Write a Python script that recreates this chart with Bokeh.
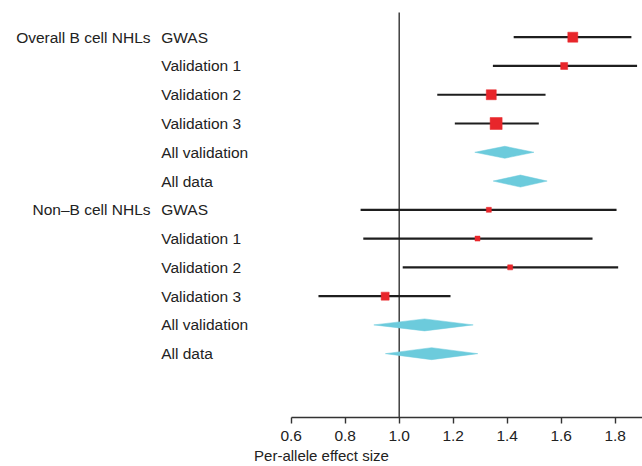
from bokeh.plotting import figure
from bokeh.models import Range1d, FixedTicker, LinearAxis, NumeralTickFormatter
from bokeh.core.properties import value
from bokeh.embed import file_html
from bokeh.resources import INLINE

# ---------------- data ----------------
groups = ["Overall B cell NHLs", "Non\u2013B cell NHLs"]
row_labels = ["GWAS", "Validation 1", "Validation 2", "Validation 3",
              "All validation", "All data"] * 2
estimate = [1.643, 1.611, 1.341, 1.359, 1.391, 1.449,
            1.332, 1.290, 1.411, 0.948, 1.094, 1.120]
ci_low = [1.424, 1.347, 1.141, 1.206, 1.280, 1.348,
          0.857, 0.867, 1.013, 0.701, 0.906, 0.949]
ci_high = [1.860, 1.881, 1.542, 1.517, 1.499, 1.548,
           1.805, 1.716, 1.811, 1.190, 1.274, 1.291]
is_pooled = [False, False, False, False, True, True,
             False, False, False, False, True, True]
weight = [10, 7, 10, 12, 0, 0, 5, 5, 5, 8, 0, 0]  # square size of study estimates
x_ticks = [0.6, 0.8, 1.0, 1.2, 1.4, 1.6, 1.8]
x_label = "Per-allele effect size"

# ---------------- layout ----------------
W, H = 642, 466
PX_PER_UNIT = 270.0
AXIS_X0 = 290.7          # canvas x of value 0.6
ROW0_Y = 36.7            # canvas y of first row
ROW_STEP = 28.77
FRAME_H = 417
x_start = 0.6 - AXIS_X0 / PX_PER_UNIT
x_end = x_start + W / PX_PER_UNIT
y_top = (0 - ROW0_Y) / ROW_STEP
y_bot = (FRAME_H - ROW0_Y) / ROW_STEP
def px_to_row(py):
    return (py - ROW0_Y) / ROW_STEP
def px_to_x(px):
    return 0.6 + (px - AXIS_X0) / PX_PER_UNIT

FONT = value("Liberation Sans")

p = figure(width=W, height=H, output_backend="svg", toolbar_location=None,
           x_range=Range1d(x_start, x_end), y_range=Range1d(y_bot, y_top),
           y_axis_location=None, min_border_left=0, min_border_right=0,
           min_border_top=0, min_border_bottom=H - FRAME_H)
p.outline_line_color = None
p.grid.visible = False
p.background_fill_color = "white"
p.border_fill_color = "white"

rows = list(range(len(row_labels)))

# reference line at 1.0
p.segment(x0=[1.0], y0=[px_to_row(12)], x1=[1.0], y1=[y_bot],
          line_color="#333333", line_width=1.4)

# confidence intervals of studies
st_rows = [r for r in rows if not is_pooled[r]]
p.segment(x0=[ci_low[r] for r in st_rows], y0=st_rows,
          x1=[ci_high[r] for r in st_rows], y1=st_rows,
          line_color="#1e1e1e", line_width=2.2)
p.scatter(x=[estimate[r] for r in st_rows], y=st_rows,
          size=[weight[r] for r in st_rows], marker="square",
          fill_color="#e8262b", line_color="#e8262b", line_width=0.5)

# pooled diamonds
pl_rows = [r for r in rows if is_pooled[r]]
dh = 6.0 / ROW_STEP
xs = [[ci_low[r], estimate[r], ci_high[r], estimate[r]] for r in pl_rows]
ys = [[r, r - dh, r, r + dh] for r in pl_rows]
p.patches(xs=xs, ys=ys, fill_color="#6ccbdc", line_color="#6ccbdc", line_width=0.5)

# row labels
p.text(x=[px_to_x(160.7)] * len(rows), y=rows, text=row_labels,
       text_font=FONT, text_font_size="15.5px", text_color="#222222",
       text_align="left", text_baseline="middle")
p.text(x=[px_to_x(150)] * 2, y=[0, 6], text=groups,
       text_font=FONT, text_font_size="15.5px", text_color="#222222",
       text_align="right", text_baseline="middle")

# x axis (ticks)
ax = p.xaxis[0]
ax.ticker = FixedTicker(ticks=x_ticks)
ax.formatter = NumeralTickFormatter(format="0.0")
ax.bounds = (0.6, x_end)
ax.axis_line_color = "#333333"
ax.axis_line_width = 1.4
ax.major_tick_line_color = "#333333"
ax.major_tick_line_width = 1.4
ax.major_tick_out = 6
ax.major_tick_in = 0
ax.minor_tick_line_color = None
ax.major_label_standoff = 7
ax.major_label_text_font = "Liberation Sans"
ax.major_label_text_font_size = "15.5px"
ax.major_label_text_color = "#222222"

# second axis only carrying the title, centred on 1.0
ax2 = LinearAxis(ticker=FixedTicker(ticks=[]), bounds=(0.6, 1.4),
                 axis_line_color=None, major_tick_line_color=None,
                 minor_tick_line_color=None, axis_label=x_label,
                 axis_label_standoff=3, axis_label_text_font="Liberation Sans",
                 axis_label_text_font_size="15px",
                 axis_label_text_font_style="normal",
                 axis_label_text_color="#222222")
p.add_layout(ax2, "below")

open("out.html", "w").write(file_html(p, INLINE))
